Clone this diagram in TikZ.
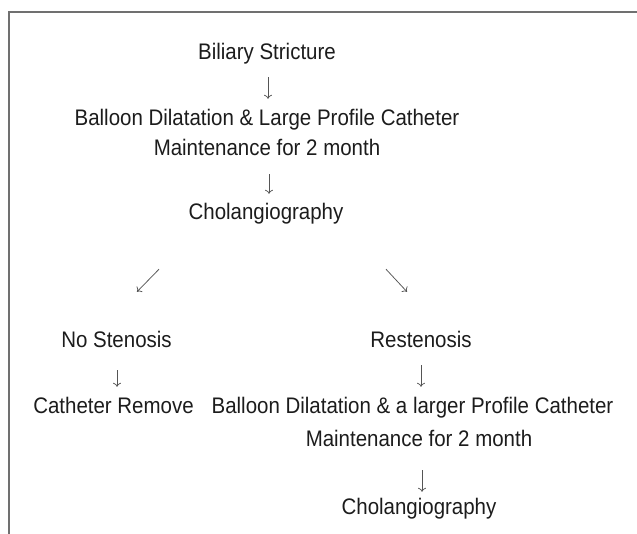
\documentclass[tikz,border=0pt]{standalone}
\usepackage{fontspec}
\setmainfont{Liberation Sans}[FakeStretch=0.91]
\usetikzlibrary{arrows.meta,calc}
\definecolor{txt}{HTML}{1C1C1C}
\definecolor{frame}{HTML}{707070}
\definecolor{arr}{HTML}{555555}
\begin{document}
\begin{tikzpicture}[x=1pt,y=-1pt,
  lbl/.style={anchor=base,inner sep=0pt,text height=15.5pt,text depth=4.5pt,
    text=txt,font=\fontsize{22.5}{27}\selectfont},
  arrline/.style={draw=arr,line width=0.75pt,-{To[length=4pt,width=8pt]}}]
\useasboundingbox (0,0) rectangle (637,534);
\draw[frame,line width=1.2pt] (637,12) -- (9,12) -- (9,534);
% nodes
\node[lbl] (n1) at (267,60) {Biliary Stricture};
\node[lbl] (n2) at (267,126) {Balloon Dilatation \& Large Profile Catheter};
\node[lbl] (n2m) at (267,156) {Maintenance for 2 month};
\node[lbl] (n3) at (266,220) {Cholangiography};
\node[lbl] (n4) at (116.5,348) {No Stenosis};
\node[lbl] (n5) at (421,348) {Restenosis};
\node[lbl] (n6) at (113.5,413) {Catheter Remove};
\node[lbl] (n7) at (412.5,413) {Balloon Dilatation \& a larger Profile Catheter};
\node[lbl] (n8) at (419,446) {Maintenance for 2 month};
\node[lbl] (n9) at (419,514) {Cholangiography};
% connectors
\draw[arrline,shorten <=12.5pt,shorten >=11.5pt] ($(n1.south)+(1,0)$) -- ($(n2.north)+(1,0)$);
\draw[arrline,shorten <=13.5pt,shorten >=10.5pt] ($(n2m.south)+(2,0)$) -- ($(n3.north)+(3,0)$);
\draw[arrline] ($(n3.south)+(-107,44.5)$) -- ($(n4.north)+(20.5,-40.5)$);
\draw[arrline] ($(n3.south)+(120,44.5)$) -- ($(n5.north)+(-14,-40.5)$);
\draw[arrline,shorten <=17.5pt,shorten >=10.5pt] ($(n4.south)+(0.5,0)$) -- ($(n6.north)+(3.5,0)$);
\draw[arrline,shorten <=12.5pt,shorten >=10.5pt] (n5.south) -- ($(n7.north)+(8.5,0)$);
\draw[arrline,shorten <=19.5pt,shorten >=6.5pt] ($(n8.south)+(3,0)$) -- ($(n9.north)+(3,0)$);
\end{tikzpicture}
\end{document}
